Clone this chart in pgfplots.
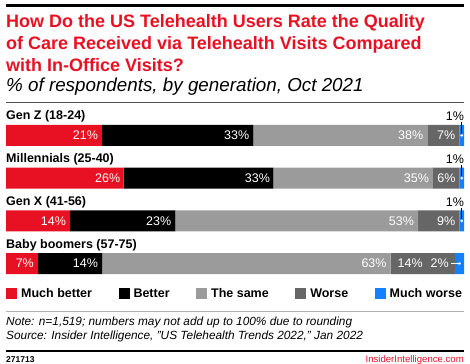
\documentclass[border=0pt]{standalone}
\usepackage{pgfplots}
\pgfplotsset{compat=1.18}
\usepackage{pgfplotstable}
\usepackage{fontspec}
\setmainfont{Liberation Sans}
\definecolor{eRed}{RGB}{232,17,35}
\definecolor{eLight}{RGB}{155,155,155}
\definecolor{eDark}{RGB}{102,102,102}
\definecolor{eBlue}{RGB}{18,128,255}
\definecolor{eRule}{RGB}{80,80,80}
\newcommand\fs[2]{\fontsize{#1bp}{#2bp}\selectfont}
% label placement for the small "Much worse" segments (chosen by label value)
\tikzset{
  bset1/.style={append after command={
      (\tikzlastnode) edge[draw=black, line width=0.7bp] +(0bp,13bp)
      (\tikzlastnode.center) node[anchor=south east, xshift=2.5bp, yshift=14.5bp, inner sep=0pt, text=black, font=\fs{12.5}{15}] {1\%}}},
  bset2/.style={append after command={
      (\tikzlastnode) edge[draw=white, line width=0.7bp] +(-8.5bp,0bp)
      (\tikzlastnode.center) node[anchor=east, xshift=-10.5bp, inner sep=0pt, text=white, font=\fs{12.5}{15}] {2\%}}},
  bsel/.code={\pgfkeysalso{/tikz/bset#1}},
}

% y: 3 = Gen Z, 2 = Millennials, 1 = Gen X, 0 = Baby boomers
\pgfplotstableread{
y x lab
3 21 21
2 25.7 26
1 14 14
0 7 7
}\muchbetter
\pgfplotstableread{
y x lab
3 33 33
2 32.7 33
1 23 23
0 14 14
}\better
\pgfplotstableread{
y x lab
3 38 38
2 34.7 35
1 53 53
0 63 63
}\same
\pgfplotstableread{
y x lab
3 7 7
2 5.9 6
1 9 9
0 14 14
}\worse
\pgfplotstableread{
y x lab
3 1 1
2 1.0 1
1 1 1
0 2 2
}\muchworse

\begin{document}
\begin{tikzpicture}
\useasboundingbox (0,0) rectangle (470bp,364bp);
% header
\draw[black, line width=3bp] (6bp,358bp) -- (464bp,358bp);
\node[anchor=base west, inner sep=0pt, text=eRed, font=\bfseries\fs{18}{22}] at (6bp,336bp) {How Do the US Telehealth Users Rate the Quality};
\node[anchor=base west, inner sep=0pt, text=eRed, font=\bfseries\fs{18}{22}] at (6bp,314bp) {of Care Received via Telehealth Visits Compared};
\node[anchor=base west, inner sep=0pt, text=eRed, font=\bfseries\fs{18}{22}] at (6bp,292bp) {with In-Office Visits?};
\node[anchor=base west, inner sep=0pt, font=\itshape\fs{18.8}{22}] at (6bp,272bp) {\% of respondents, by generation, Oct 2021};
\draw[eRule, line width=0.8bp] (6bp,262bp) -- (464bp,262bp);
% row labels
\foreach \t/\yy in {{Gen Z (18-24)}/244, {Millennials (25-40)}/201, {Gen X (41-56)}/158, {Baby boomers (57-75)}/115}
  \node[anchor=base west, inner sep=0pt, font=\bfseries\fs{12.5}{15}] at (6bp,\yy bp) {\t};

\begin{axis}[
  at={(6bp,90bp)}, anchor=south west,
  scale only axis, width=458bp, height=149bp,
  xbar stacked, bar width=21bp,
  xmin=0, xmax=100, ymin=-0.2442, ymax=3.2442,
  hide axis, clip=false,
  legend columns=5,
  legend style={at={(0,0)}, anchor=north west, yshift=-12bp, draw=none, fill=none,
    inner sep=0pt, font=\bfseries\fs{12.5}{15},
    /tikz/every even column/.append style={column sep=24.5bp},
    /tikz/every odd column/.append style={column sep=2bp}},
  legend image code/.code={\fill[#1] (0bp,-5.5bp) rectangle (11bp,5.5bp);},
  lbl/.style={point meta=explicit symbolic,
    nodes near coords={\pgfplotspointmeta\%},
    every node near coord/.append style={anchor=east, xshift={\pgfplotspointmeta*2.29bp-4bp}, text=white, inner sep=0pt,
      font=\fs{12.5}{15}}},
]
\addplot[fill=eRed, draw=none, lbl] table[x=x, y=y, meta=lab] {\muchbetter};
\addplot[fill=black, draw=none, lbl] table[x=x, y=y, meta=lab] {\better};
\addplot[fill=eLight, draw=none, lbl] table[x=x, y=y, meta=lab] {\same};
\addplot[fill=eDark, draw=none, lbl,
  every node near coord/.append style={xshift={ifthenelse(\pgfplotspointmeta==14,-28,0)}}] table[x=x, y=y, meta=lab] {\worse};
\addplot[fill=eBlue, draw=none,
  point meta=explicit symbolic,
  nodes near coords={},
  every node near coord/.style={circle, fill=white, inner sep=0pt, minimum size=3bp, anchor=center,
    bsel/.expanded={\pgfplotspointmeta}},
] table[x=x, y=y, meta=lab] {\muchworse};
\legend{Much better, Better, The same, Worse, Much worse}
\end{axis}

% footer
\draw[black!30, line width=0.8bp] (6bp,53bp) -- (464bp,53bp);
\node[anchor=base west, inner sep=0pt, font=\itshape\fs{11.85}{14}] at (6bp,39bp) {Note: n=1,519; numbers may not add up to 100\% due to rounding};
\node[anchor=base west, inner sep=0pt, font=\itshape\fs{11.85}{14}] at (6bp,25bp) {Source: Insider Intelligence, "US Telehealth Trends 2022," Jan 2022};
\draw[black, line width=2.5bp] (6bp,13bp) -- (464bp,13bp);
\node[anchor=base west, inner sep=0pt, font=\bfseries\fs{8.5}{10}] at (6bp,2bp) {271713};
\node[anchor=base east, inner sep=0pt, text=eRed, font=\fs{9.6}{12}] at (464bp,2bp) {InsiderIntelligence.com};
\end{tikzpicture}
\end{document}
